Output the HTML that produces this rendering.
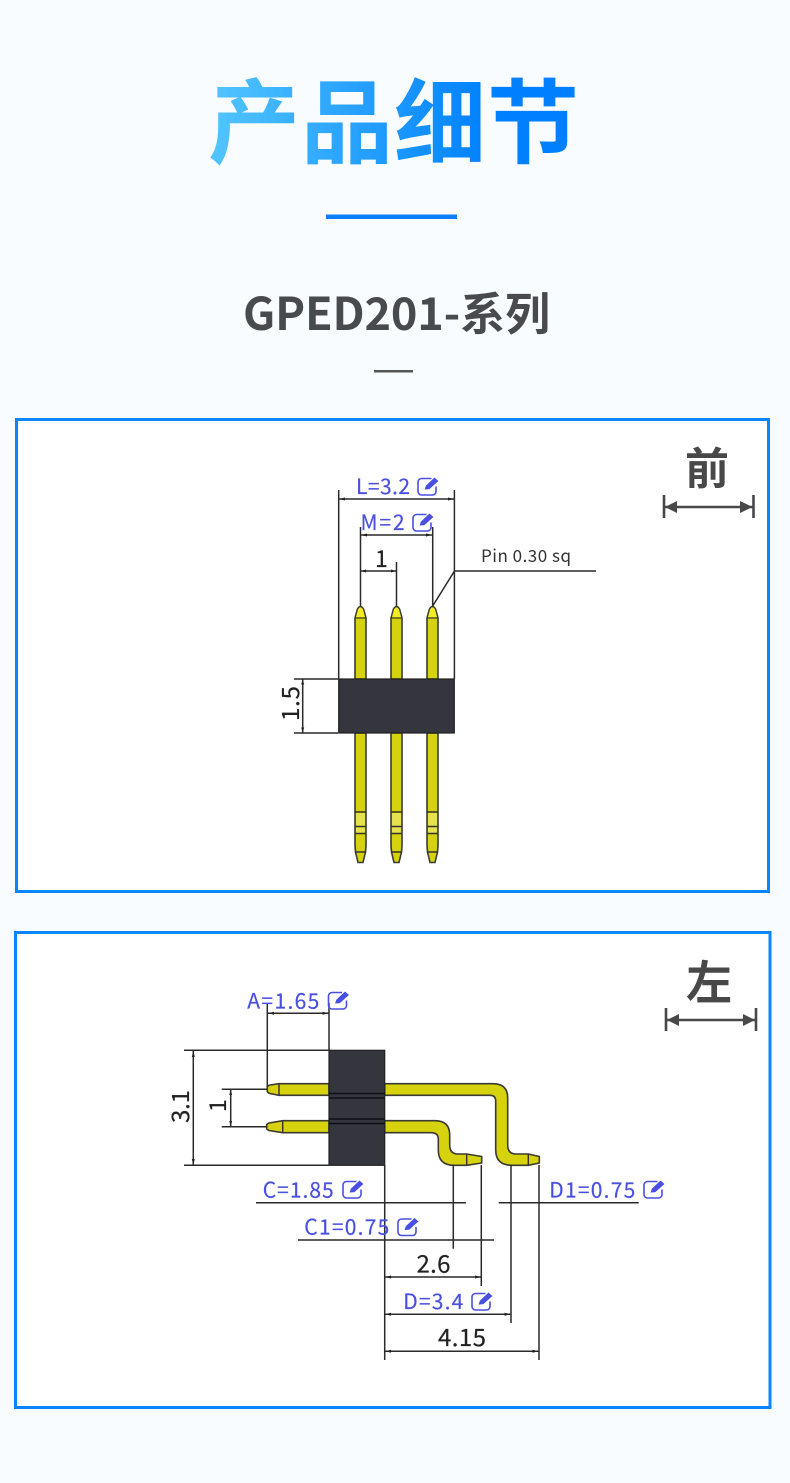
<!DOCTYPE html>
<html><head><meta charset="utf-8"><style>
html,body{margin:0;padding:0;background:#f9fcff}
svg{display:block}
text{font-family:"Noto Sans CJK SC","Liberation Sans",sans-serif}
.blue{fill:#4a50e0;font-size:21px;stroke:#4a50e0;stroke-width:.2}
.blk{fill:#222;font-size:24px;stroke:#222;stroke-width:.2}
.l{stroke:#2b2b2b;stroke-width:1.5;fill:none}
.p{fill:#d6d20c;stroke:#3a3a32;stroke-width:1.6}
</style></head><body>
<svg width="790" height="1483" viewBox="0 0 790 1483" xmlns="http://www.w3.org/2000/svg">
<defs>
<filter id="s" x="0" y="0" width="1" height="1"><feGaussianBlur stdDeviation="0.35"/></filter>
<linearGradient id="g" gradientUnits="userSpaceOnUse" x1="210" y1="0" x2="490" y2="0"><stop offset="0" stop-color="#52c5ff"/><stop offset="1" stop-color="#0080ff"/></linearGradient>
<g id="ic">
<path d="M15 2H5a3.500 3.500 0 0 0-3.500 3.500V15a3.500 3.500 0 0 0 3.500 3.500H16a3.500 3.500 0 0 0 3.500-3.500V10" fill="none" stroke="#4a50e0" stroke-width="1.600"/>
<path d="M7.500 13.500l1.500-4.500L18 0.500l4.500 4L13 13z" fill="#4a50e0" stroke="#fff" stroke-width=".8"/>
</g>
<g id="t">
<path class="p" d="M355 679V618L357.500 609Q360.500 604 363.500 609L366 618V679z"/>
<path d="M358 609.500Q360.500 605.500 363 609.500L365 617H356z" fill="#f2ec22"/>
<path d="M355 618H366" stroke="#3a3a32" stroke-width="1.200"/>
<path class="p" d="M355 733V846L355.500 852L358 862.500H363L365.500 852L366 846V733z"/>
<rect x="356" y="813" width="9" height="13" fill="#e6e150"/>
<rect x="356" y="827" width="9" height="6" fill="#e6e150"/>
<path d="M355 812H366M355 826.500H366M355 833.500H366M355.500 852H365.500" stroke="#33332c" stroke-width="1.400"/>
</g>
</defs>
<rect width="790" height="1483" fill="#f9fcff"/>

<text x="208" y="156" font-size="92" font-weight="700" fill="url(#g)" textLength="371" lengthAdjust="spacing">产品细节</text>
<rect x="326" y="214.500" width="131" height="4.500" fill="#0a80ff"/>
<text x="243" y="330" font-size="45" font-weight="700" fill="#484a4d" textLength="307" lengthAdjust="spacing">GPED201-系列</text>
<rect x="374" y="370" width="39" height="2.500" fill="#555"/>

<rect x="16.500" y="419.500" width="752" height="472" fill="#fff" stroke="#0a84ff" stroke-width="3"/>
<rect x="15.500" y="932.500" width="754.500" height="475" fill="#fff" stroke="#0a84ff" stroke-width="3"/>

<text x="685" y="484" font-size="44" font-weight="700" fill="#484848">前</text>
<path d="M664 495V518M753.500 495V518M664 507H753" stroke="#484848" stroke-width="2.600" fill="none"/>
<path d="M665 507L677 501V513zM752.500 507L740 501V513z" fill="#484848"/>

<text x="686" y="999" font-size="46" font-weight="700" fill="#484848">左</text>
<path d="M666 1008V1031M756 1008V1031M666 1020H756" stroke="#484848" stroke-width="2.600" fill="none"/>
<path d="M667 1020L679 1014V1026zM755 1020L743 1014V1026z" fill="#484848"/>

<g filter="url(#s)">
<use href="#t"/><use href="#t" x="36"/><use href="#t" x="72"/>
<rect x="338.700" y="679" width="115.600" height="54" fill="#34343e" stroke="#222" stroke-width="1.200"/>
<path class="l" d="M338.700 490V679M454.400 490V679M338.700 499H454.400M360.500 527V606M432.700 527V606M360.500 535H432.700M360.500 571H396.500M396.500 562V606M432.700 606L454.500 571H596M294 679H338M294 733H338M302.700 679V733"/>
<path d="M339 499l6-1.500v3zM454 499l-6-1.500v3zM361 535l6-1.500v3zM432 535l-6-1.500v3zM361 571l5-1.500v3zM396 571l-5-1.500v3zM302.700 679.500l-1.500 5h3zM302.700 732.500l-1.500-5h3z" fill="#222"/>

<text class="blue" x="356" y="494" textLength="54">L=3.2</text><use href="#ic" x="416.500" y="476.500"/>
<text class="blue" x="360.500" y="530" textLength="44">M=2</text><use href="#ic" x="411.500" y="512.500"/>
<text class="blk" x="375" y="567" style="font-size:23px">1</text>
<text x="481" y="562" font-size="17" fill="#333" textLength="90">Pin 0.30 sq</text>
<text class="blk" transform="translate(299,721) rotate(-90)" textLength="35">1.5</text>

<path class="p" d="M267.300 1086.500Q268 1085.500 270 1085L279 1083.700H329V1095.300H279L270 1093.500Q268 1093 267.300 1091.500z"/>
<path d="M279 1083.700V1095.300" stroke="#33332c" stroke-width="1.400"/>
<path class="p" d="M266.700 1124.500Q267.500 1123.500 269 1123L282.700 1120.700H329V1132.700H282.700L269 1130.500Q267.500 1130 266.700 1129z"/>
<path d="M282.700 1120.700V1132.700" stroke="#33332c" stroke-width="1.400"/>

<path class="p" d="M384.700 1083.700H493Q507.700 1083.700 507.700 1098V1145Q507.700 1154 516 1154H528.300L539.300 1156.500V1163L528.300 1165.300H512Q495.700 1165.300 495.700 1150V1101Q495.700 1095.300 490 1095.300H384.700z"/>
<path d="M528.300 1154V1165.300" stroke="#33332c" stroke-width="1.400"/>
<path class="p" d="M384.700 1120.700H435Q449.700 1120.700 449.700 1135V1145Q449.700 1154 458 1154H466.700L481.700 1156.500V1163L466.700 1165.300H454Q438.300 1165.300 438.300 1150V1139Q438.300 1132.700 431 1132.700H384.700z"/>
<path d="M466.700 1154V1165.300" stroke="#33332c" stroke-width="1.400"/>

<rect x="329" y="1050.300" width="55.700" height="115" fill="#34343e" stroke="#222" stroke-width="1.200"/>
<path d="M329 1093.500H384.700M329 1098H384.700M329 1119H384.700M329 1123.500H384.700" stroke="#101014" stroke-width="1.500"/>

<path class="l" d="M267.300 1003V1087M329 1003V1050M267.300 1013.300H329M184 1050.300H329M184 1165.300H329M193.300 1050.300V1165.300M221.700 1089.300H267M221.700 1126.700H267M230.700 1089.300V1126.700M384.700 1165V1360M453.300 1165V1248.700M481.300 1165V1286M511 1165V1323M539 1165V1360M256 1202.700H466M498.700 1202.700H638.700M298 1240H494M384.700 1277H481.300M384.700 1314.300H511M384.700 1351.300H539"/>
<path d="M268 1013.300l6-1.500v3zM328.500 1013.300l-6-1.500v3zM193.300 1051l-1.500 6h3zM193.300 1165l-1.500-6h3zM230.700 1090l-1.500 5h3zM230.700 1126l-1.500-5h3zM385 1277l6-1.500v3zM481 1277l-6-1.500v3zM385 1314.300l6-1.500v3zM510.500 1314.300l-6-1.500v3zM385 1351.300l6-1.500v3zM538.500 1351.300l-6-1.500v3z" fill="#222"/>

<text class="blue" x="247.300" y="1008.300" textLength="72">A=1.65</text><use href="#ic" x="327" y="990.500"/>
<text class="blue" x="262.700" y="1197.300" textLength="71">C=1.85</text><use href="#ic" x="341.500" y="1179.500"/>
<text class="blue" x="304.300" y="1234.700" textLength="85">C1=0.75</text><use href="#ic" x="396.500" y="1217"/>
<text class="blue" x="549.300" y="1197.300" textLength="86">D1=0.75</text><use href="#ic" x="642.500" y="1179.500"/>
<text class="blue" x="403.300" y="1309" textLength="60">D=3.4</text><use href="#ic" x="470.500" y="1291.500"/>
<text class="blk" x="416.500" y="1272.700" textLength="34">2.6</text>
<text class="blk" x="438" y="1346" textLength="48">4.15</text>
<text class="blk" transform="translate(189,1123) rotate(-90)" textLength="33">3.1</text>
<text class="blk" transform="translate(226,1112) rotate(-90)" style="font-size:23px">1</text>
</g>
</svg>
</body></html>
